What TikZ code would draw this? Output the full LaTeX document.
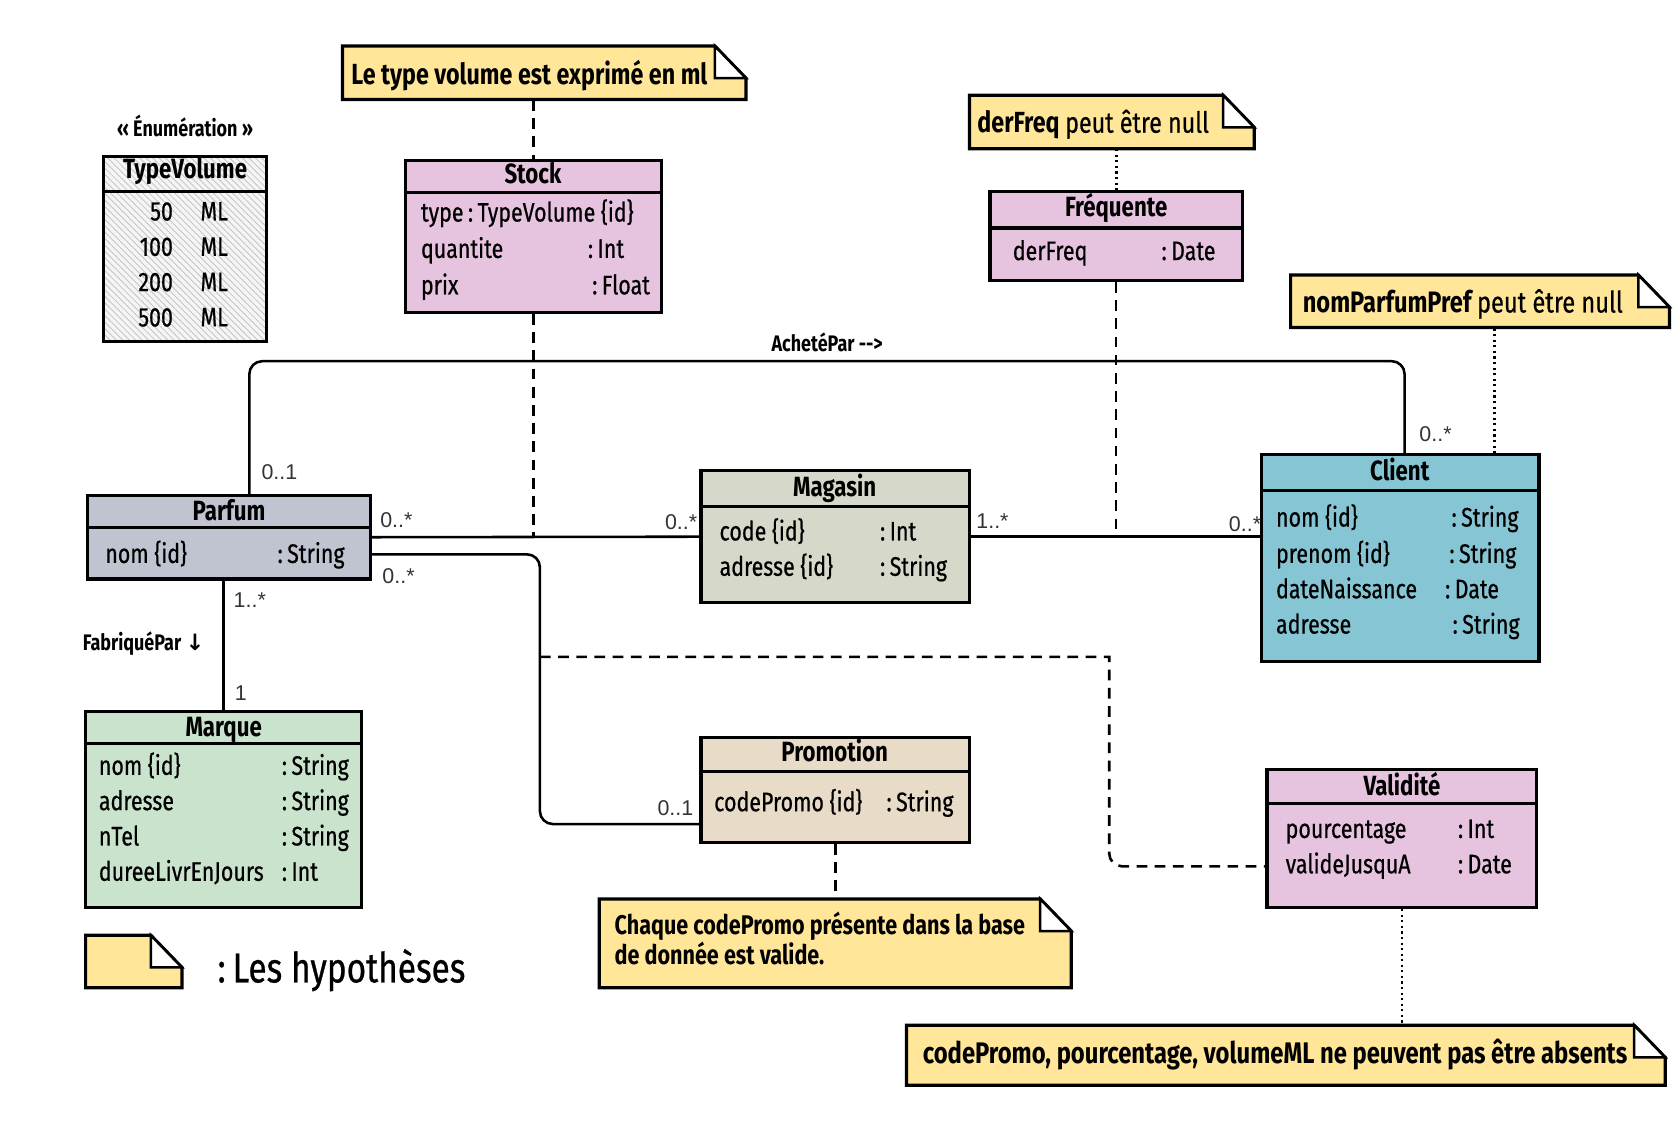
\documentclass[tikz,border=0pt]{standalone}
\usepackage{fontspec}
\setmainfont{Fira Sans}[FakeStretch=0.8, UprightFeatures={FakeBold=0.6}]
\newfontfamily\multfont{Liberation Sans}
\newfontfamily\arrowfont{DejaVu Sans}
\usetikzlibrary{fit,patterns}

\definecolor{noteyellow}{HTML}{FFE699}
\definecolor{stockpink}{HTML}{E6C4DF}
\definecolor{parfumgray}{HTML}{BFC4D0}
\definecolor{magasingray}{HTML}{D6D8C9}
\definecolor{clientblue}{HTML}{86C5D4}
\definecolor{marquegreen}{HTML}{C9E3CD}
\definecolor{promobeige}{HTML}{E8DBC8}

% note with folded corner: name, x1, y1, x2, y2
\newcommand{\hypnote}[5]{%
  \path[draw, line width=1.5pt, fill=noteyellow] (#2,#3) -- (#4-29,#3) -- (#4,#3+30) -- (#4,#5) -- (#2,#5) -- cycle;
  \path[draw, line width=1.2pt, fill=white] (#4-29,#3) -- (#4,#3+30) -- (#4-29,#3+30) -- cycle;
  \node[fit={(#2,#3) (#4,#5)}, inner sep=0pt] (#1) {};
}

\begin{document}
\begin{tikzpicture}[
  x=0.5pt, y=-0.5pt,
  cls/.style={draw, line width=1.5pt, inner sep=0pt},
  hline/.style={line width=1.5pt},
  ctitle/.style={anchor=base, inner sep=0pt, font=\fontsize{13}{15}\selectfont\bfseries},
  attr/.style={anchor=base west, inner sep=0pt, font=\fontsize{12.5}{15}\selectfont},
  mult/.style={anchor=base west, inner sep=0pt, text=black!80, font=\multfont\fontsize{10}{12}\selectfont},
  assoc/.style={line width=1.2pt, rounded corners=6pt},
  link/.style={line width=1.2pt, dash pattern=on 5pt off 3.5pt},
  hypdot/.style={line width=1.3pt, dash pattern=on 1pt off 1.6pt},
  notetext/.style={anchor=base west, inner sep=0pt, font=\fontsize{13.6}{16}\selectfont\bfseries},
  alabel/.style={anchor=base, inner sep=0pt, font=\fontsize{10.5}{12}\selectfont\bfseries}
]
\useasboundingbox (0,0) rectangle (1568,1067);

% enumeration
\node[alabel] (enumLbl) at (173,128) {‹‹ Énumération ››};
\node[cls, fit={(97,146) (249,319)}, preaction={fill=gray!8}, pattern=north west lines, pattern color=gray!45] (typeVolume) {};
\draw[hline] (97,179) -- (249,179);
\node[ctitle] (tTypeVolume) at (173,167) {TypeVolume};
\node[attr, anchor=base east] (v50) at (162,206) {50};
\node[attr] (m50) at (187,206) {ML};
\node[attr, anchor=base east] (v100) at (162,239) {100};
\node[attr] (m100) at (187,239) {ML};
\node[attr, anchor=base east] (v200) at (162,272) {200};
\node[attr] (m200) at (187,272) {ML};
\node[attr, anchor=base east] (v500) at (162,305) {500};
\node[attr] (m500) at (187,305) {ML};

% classes
\node[cls, fill=stockpink, fit={(379,150) (618,292)}] (stock) {};
\draw[hline] (379,180) -- (618,180);
\node[ctitle] (tStock) at (498,171) {Stock};
\node[attr] (aStock1) at (393,207) {type\,:\,TypeVolume \{id\}};
\node[attr] (aStock2) at (393,241) {quantite};
\node[attr] (aStock2t) at (549,241) {:\,Int};
\node[attr] (aStock3) at (393,275) {prix};
\node[attr] (aStock3t) at (553,275) {:\,Float};

\node[cls, fill=stockpink, fit={(925,179) (1161,262)}] (frequente) {};
\draw[hline] (925,213) -- (1161,213);
\node[ctitle] (tFrequente) at (1043,202) {Fréquente};
\node[attr] (aFreq1) at (946,243) {derFreq};
\node[attr] (aFreq1t) at (1085,243) {:\,Date};

\node[cls, fill=parfumgray, fit={(82,463) (346,541)}] (parfum) {};
\draw[hline] (82,493) -- (346,493);
\node[ctitle] (tParfum) at (214,486) {Parfum};
\node[attr] (aParfum1) at (98,526) {nom \{id\}};
\node[attr] (aParfum1t) at (259,526) {:\,String};

\node[cls, fill=magasingray, fit={(655,440) (906,563)}] (magasin) {};
\draw[hline] (655,473) -- (906,473);
\node[ctitle] (tMagasin) at (780,464) {Magasin};
\node[attr] (aMag1) at (672,505) {code \{id\}};
\node[attr] (aMag1t) at (822,505) {:\,Int};
\node[attr] (aMag2) at (672,538) {adresse \{id\}};
\node[attr] (aMag2t) at (822,538) {:\,String};

\node[cls, fill=clientblue, fit={(1179,425) (1438,618)}] (client) {};
\draw[hline] (1179,458) -- (1438,458);
\node[ctitle] (tClient) at (1308,449) {Client};
\node[attr] (aCli1) at (1192,492) {nom \{id\}};
\node[attr] (aCli1t) at (1356,492) {:\,String};
\node[attr] (aCli2) at (1192,526) {prenom \{id\}};
\node[attr] (aCli2t) at (1354,526) {:\,String};
\node[attr] (aCli3) at (1192,559) {dateNaissance};
\node[attr] (aCli3t) at (1350,559) {:\,Date};
\node[attr] (aCli4) at (1192,592) {adresse};
\node[attr] (aCli4t) at (1357,592) {:\,String};

\node[cls, fill=marquegreen, fit={(80,665) (338,848)}] (marque) {};
\draw[hline] (80,695) -- (338,695);
\node[ctitle] (tMarque) at (209,688) {Marque};
\node[attr] (aMar1) at (92,724) {nom \{id\}};
\node[attr] (aMar1t) at (263,724) {:\,String};
\node[attr] (aMar2) at (92,757) {adresse};
\node[attr] (aMar2t) at (263,757) {:\,String};
\node[attr] (aMar3) at (92,790) {nTel};
\node[attr] (aMar3t) at (263,790) {:\,String};
\node[attr] (aMar4) at (92,823) {dureeLivrEnJours};
\node[attr] (aMar4t) at (263,823) {:\,Int};

\node[cls, fill=promobeige, fit={(655,689) (906,787)}] (promotion) {};
\draw[hline] (655,721) -- (906,721);
\node[ctitle] (tPromotion) at (780,712) {Promotion};
\node[attr] (aPro1) at (667,758) {codePromo \{id\}};
\node[attr] (aPro1t) at (828,758) {:\,String};

\node[cls, fill=stockpink, fit={(1184,719) (1436,848)}] (validite) {};
\draw[hline] (1184,751) -- (1436,751);
\node[ctitle] (tValidite) at (1310,743) {Validité};
\node[attr] (aVal1) at (1201,783) {pourcentage};
\node[attr] (aVal1t) at (1362,783) {:\,Int};
\node[attr] (aVal2) at (1201,816) {valideJusquA};
\node[attr] (aVal2t) at (1362,816) {:\,Date};

% notes
\hypnote{nVol}{320}{43}{697}{93}
\node[notetext] (tVol) at (328,79) {Le type volume est exprimé en ml};
\hypnote{nFreq}{906}{89}{1172}{139}
\node[notetext] (tFreq) at (913,124) {derFreq \mdseries peut être null};
\hypnote{nPref}{1206}{257}{1560}{306}
\node[notetext, font=\fontsize{13.8}{16}\selectfont\bfseries] (tPref) at (1217,292) {nomParfumPref \mdseries peut être null};
\hypnote{nPromo}{560}{840}{1001}{923}
\node[notetext, font=\fontsize{12.6}{15}\selectfont\bfseries] (tPromo1) at (574,873) {Chaque codePromo présente dans la base};
\node[notetext, font=\fontsize{12.6}{15}\selectfont\bfseries] (tPromo2) at (574,901) {de donnée est valide.};
\hypnote{nAbs}{847}{958}{1556}{1014}
\node[notetext, font=\fontsize{13.9}{16}\selectfont\bfseries] (tAbs) at (862,994) {codePromo, pourcentage, volumeML ne peuvent pas être absents};
\hypnote{nLegend}{80}{874}{170}{923}
\node[notetext, font=\fontsize{19.5}{24}\selectfont] (tLegend) at (203,918) {:\,Les hypothèses};

% associations
\draw[assoc] ([shift={(19,0)}]parfum.north) -- ++(0,-124) -| ([shift={(4,0)}]client.north);
\node[alabel] (lAchete) at (773,328) {AchetéPar -{}-{}>};
\draw[assoc] (parfum.south -| marque.north) -- (marque.north);
\node[alabel, anchor=base west] (lFabrique) at (77,608) {FabriquéPar {\arrowfont\bfseries ↓}};
\draw[assoc] (parfum.east) -- coordinate[pos=0.49] (pmMid) (magasin.west);
\draw[assoc] (magasin.east) -- coordinate[pos=0.505] (mcMid) (magasin.east -| client.west);
\draw[assoc] ([shift={(0,16)}]parfum.east) -- ++(157,0) |- coordinate[pos=0.19] (ppMid) ([shift={(0,32)}]promotion.west);

% association classes and notes
\draw[link] (ppMid) -- ++(532,0) [rounded corners=6pt] |- ([shift={(0,26)}]validite.west);
\draw[link] (stock.south) -- (stock.south |- pmMid);
\draw[link] (frequente.south) -- (frequente.south |- mcMid);
\draw[link] (nVol.south -| stock.north) -- (stock.north);
\draw[hypdot] (nFreq.south -| frequente.north) -- (frequente.north);
\draw[hypdot] ([shift={(88,0)}]client.north) -- ([shift={(88,0)}]client.north |- nPref.south);
\draw[link] (promotion.south) -- (nPromo.north);
\draw[hypdot] (validite.south) -- (validite.south |- nAbs.north);

% multiplicities
\node[mult] (m1) at (244,448) {0..1};
\node[mult] (m2) at (1326,413) {0..*};
\node[mult] (m3) at (355,493) {0..*};
\node[mult] (m4) at (621,495) {0..*};
\node[mult] (m5) at (912,494) {1..*};
\node[mult] (m6) at (1148,497) {0..*};
\node[mult] (m7) at (357,545) {0..*};
\node[mult] (m8) at (614,762) {0..1};
\node[mult] (m9) at (218,568) {1..*};
\node[mult] (m10) at (219,655) {1};
\end{tikzpicture}
\end{document}
